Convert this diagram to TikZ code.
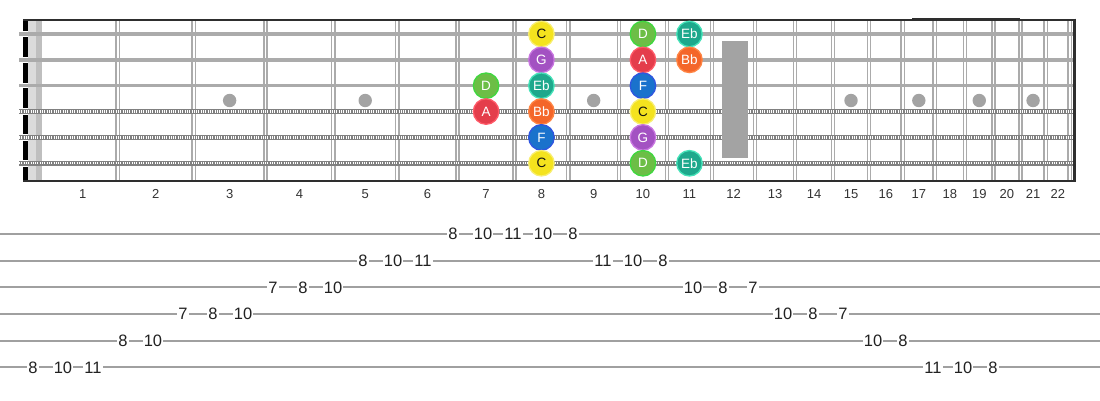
\documentclass[tikz,border=0pt]{standalone}
\usepackage{fontspec}
\setmainfont{Liberation Sans}
\definecolor{nC}{HTML}{F4E31E}\definecolor{bC}{HTML}{F8EE70}\definecolor{tC}{HTML}{111111}
\definecolor{nD}{HTML}{6CBE46}\definecolor{bD}{HTML}{3FD83F}\definecolor{tD}{HTML}{FFFFFF}
\definecolor{nEb}{HTML}{1EA88C}\definecolor{bEb}{HTML}{45E2B8}\definecolor{tEb}{HTML}{FFFFFF}
\definecolor{nG}{HTML}{A352C2}\definecolor{bG}{HTML}{C875E0}\definecolor{tG}{HTML}{FFFFFF}
\definecolor{nA}{HTML}{E43D4B}\definecolor{bA}{HTML}{FF5A68}\definecolor{tA}{HTML}{FFFFFF}
\definecolor{nBb}{HTML}{F4662A}\definecolor{bBb}{HTML}{FF8544}\definecolor{tBb}{HTML}{FFFFFF}
\definecolor{nF}{HTML}{1A72CC}\definecolor{bF}{HTML}{2F55E0}\definecolor{tF}{HTML}{FFFFFF}
\definecolor{fretgray}{HTML}{ABABAB}
\definecolor{inlaygray}{HTML}{A3A3A3}
\definecolor{tabgray}{HTML}{A0A0A0}
\begin{document}
\begin{tikzpicture}[x=1pt,y=-1pt,
  fretline/.style={draw=fretgray,line width=1.5pt},
  plainstring/.style={draw=black!33,line width=3.4pt},
  woundbase/.style={draw=black!50,line width=5pt},
  woundtex/.style={draw=white,line width=2.2pt,dash pattern=on 1pt off 1.3pt},
  border/.style={draw=black!82,line width=2pt},
  note/.style={circle,minimum size=25.5pt,inner sep=0pt,fill=n#1,draw=b#1,line width=1.3pt,text=t#1,font=\fontsize{13.5}{13.5}\selectfont},
  fretnum/.style={text=black!80,font=\fontsize{13}{13}\selectfont,inner sep=0pt},
  tabline/.style={draw=tabgray,line width=2pt},
  tabnum/.style={fill=white,inner xsep=1pt,inner ysep=0.5pt,text=black!87,font=\fontsize{16.5}{16.5}\selectfont}
]
\useasboundingbox (0,0) rectangle (1100,400);
\fill[white] (0,0) rectangle (1100,400);
% nut strip
\fill[black!14] (28.3,19.5) rectangle (36,180.5);
\fill[black!25] (36,19.5) rectangle (41.8,180.5);
\fill[black] (23,19.5) rectangle (28.3,180.5);
% frets
\foreach \n in {1,...,22} {
  \pgfmathsetmacro\fx{37.5+1435*(1-pow(2,-\n/12))}
  \draw[fretline] (\fx-1.6,19.5) -- (\fx-1.6,180.5);
  \draw[fretline] (\fx+1.6,19.5) -- (\fx+1.6,180.5);
}
% inlay dots
\foreach \f in {3,5,9,15,17,19,21} {
  \pgfmathsetmacro\xa{37.5+1435*(1-pow(2,-(\f-1)/12))}
  \pgfmathsetmacro\xb{37.5+1435*(1-pow(2,-\f/12))}
  \fill[inlaygray] ({(\xa+\xb)/2},100.5) circle (6.7);
}
% strings
\foreach \s in {1,2,3} {
  \pgfmathsetmacro\yy{34+(\s-1)*25.85}
  \draw[white,line width=5.5pt] (23,\yy) -- (28.3,\yy);
  \draw[plainstring] (19,\yy) -- (1074,\yy);
}
\foreach \s in {4,5,6} {
  \pgfmathsetmacro\yy{34+(\s-1)*25.85}
  \draw[white,line width=6.5pt] (23,\yy) -- (28.3,\yy);
  \draw[woundbase] (19,\yy) -- (1074,\yy);
  \draw[woundtex] (19,\yy) -- (1074,\yy);
}
% fret 12 marker
\fill[inlaygray] (721.5,40.7) rectangle (748,157.7);
% borders
\draw[border] (23,19.5) -- (1075,19.5);
\draw[border] (23,180.5) -- (1075,180.5);
\draw[border,line width=2.5pt] (1074.5,18.5) -- (1074.5,181.5);
\draw[draw=black!82,line width=1.5pt] (912,18.3) -- (1020,18.3);
% fret numbers
\foreach \n in {1,...,22} {
  \pgfmathsetmacro\xb{37.5+1435*(1-pow(2,-\n/12))}
  \pgfmathsetmacro\xa{ifthenelse(\n==1,48,37.5+1435*(1-pow(2,-(\n-1)/12)))}
  \node[fretnum] (fn\n) at ({(\xa+\xb)/2},194) {\n};
}
% notes
\foreach \f/\s/\t [count=\i] in {8/1/C,10/1/D,11/1/Eb,8/2/G,10/2/A,11/2/Bb,7/3/D,8/3/Eb,10/3/F,7/4/A,8/4/Bb,10/4/C,8/5/F,10/5/G,8/6/C,10/6/D,11/6/Eb} {
  \pgfmathsetmacro\xa{37.5+1435*(1-pow(2,-(\f-1)/12))}
  \pgfmathsetmacro\xb{37.5+1435*(1-pow(2,-\f/12))}
  \pgfmathsetmacro\yy{34+(\s-1)*25.85}
  \node[note=\t] (note\i) at ({(\xa+\xb)/2},\yy) {\t};
}
% tablature
\foreach \k in {1,...,6} {
  \pgfmathsetmacro\ty{234+(\k-1)*26.67}
  \draw[tabline] (0,\ty) -- (1100,\ty);
}
\foreach \x/\k/\t [count=\i] in {
  453/1/8,483/1/10,513/1/11,543/1/10,573/1/8,
  363/2/8,393/2/10,423/2/11,603/2/11,633/2/10,663/2/8,
  273/3/7,303/3/8,333/3/10,693/3/10,723/3/8,753/3/7,
  183/4/7,213/4/8,243/4/10,783/4/10,813/4/8,843/4/7,
  123/5/8,153/5/10,873/5/10,903/5/8,
  33/6/8,63/6/10,93/6/11,933/6/11,963/6/10,993/6/8} {
  \pgfmathsetmacro\ty{234+(\k-1)*26.67}
  \node[tabnum] (tab\i) at (\x,\ty) {\t};
}
\end{tikzpicture}
\end{document}
